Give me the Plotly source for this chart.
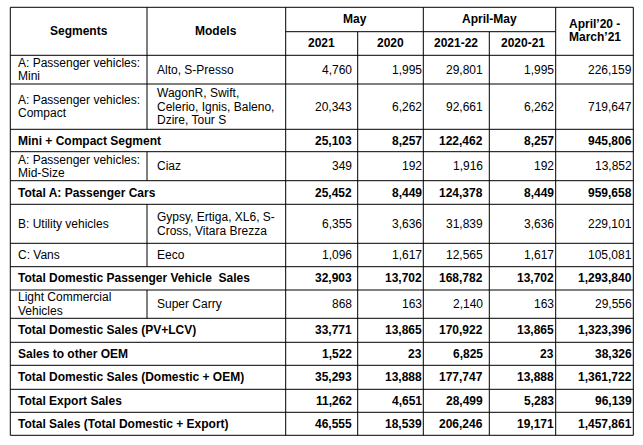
import plotly.graph_objects as go

# ---------------- data ----------------
segments = [
    "A: Passenger vehicles:\nMini",
    "A: Passenger vehicles:\nCompact",
    "Mini + Compact Segment",
    "A: Passenger vehicles:\nMid-Size",
    "Total A: Passenger Cars",
    "B: Utility vehicles",
    "C: Vans",
    "Total Domestic Passenger Vehicle  Sales",
    "Light Commercial\nVehicles",
    "Total Domestic Sales (PV+LCV)",
    "Sales to other OEM",
    "Total Domestic Sales (Domestic + OEM)",
    "Total Export Sales",
    "Total Sales (Total Domestic + Export)",
]
models = [
    "Alto, S-Presso",
    "WagonR, Swift,\nCelerio, Ignis, Baleno,\nDzire, Tour S",
    "",
    "Ciaz",
    "",
    "Gypsy, Ertiga, XL6, S-\nCross, Vitara Brezza",
    "Eeco",
    "",
    "Super Carry",
    "", "", "", "", "",
]
may_2021 = [4760, 20343, 25103, 349, 25452, 6355, 1096, 32903, 868, 33771, 1522, 35293, 11262, 46555]
may_2020 = [1995, 6262, 8257, 192, 8449, 3636, 1617, 13702, 163, 13865, 23, 13888, 4651, 18539]
apr_may_2021_22 = [29801, 92661, 122462, 1916, 124378, 31839, 12565, 168782, 2140, 170922, 6825, 177747, 28499, 206246]
apr_may_2020_21 = [1995, 6262, 8257, 192, 8449, 3636, 1617, 13702, 163, 13865, 23, 13888, 5283, 19171]
fy_2020_21 = [226159, 719647, 945806, 13852, 959658, 229101, 105081, 1293840, 29556, 1323396, 38326, 1361722, 96139, 1457861]

header_left = ["Segments", "Models"]
group_headers = ["May", "April-May"]
sub_headers = ["2021", "2020", "2021-22", "2020-21"]
fy_header = "April\u201920 -\nMarch\u201921"

value_cols = [may_2021, may_2020, apr_may_2021_22, apr_may_2020_21, fy_2020_21]

# ---------------- layout geometry ----------------
W, H = 643, 445
col_edges = [10.3, 147, 285.7, 357.7, 423.3, 489.3, 555.7, 633.3]
top, split, head_bot = 7.3, 31.7, 55.3
row_edges = [55.3, 84, 129.3, 151.7, 180.7, 204.3, 243.3, 266.7, 290,
             318.3, 342.3, 365.3, 389.3, 412.3, 435.3]
right_pad = [6, 1, 6, 1.5, 1]
line_gap = 13.4
FONT = "Liberation Sans, Arial, sans-serif"
FS = 12

fig = go.Figure()
shapes = []
ann = []


def line(x0, y0, x1, y1):
    shapes.append(dict(type="line", xref="x", yref="y", x0=x0, y0=y0, x1=x1, y1=y1,
                       line=dict(color="#000000", width=1)))


def text(x, y, s, anchor, bold=False, gap=line_gap):
    parts = s.split("\n")
    n = len(parts)
    for i, p in enumerate(parts):
        yy = y + (i - (n - 1) / 2) * gap
        t = f"<b>{p}</b>" if bold else p
        ann.append(dict(x=x, y=yy, xref="x", yref="y", text=t, showarrow=False,
                        xanchor=anchor, yanchor="middle", borderpad=0, borderwidth=0,
                        font=dict(family=FONT, size=FS, color="#000000")))


# horizontal lines
line(col_edges[0], top, col_edges[-1], top)
line(col_edges[2], split, col_edges[6], split)
for y in row_edges:
    line(col_edges[0], y, col_edges[-1], y)

# vertical lines
bottom = row_edges[-1]
for ci in [0, 2, 4, 6, 7]:
    line(col_edges[ci], top, col_edges[ci], bottom)
for ci in [3, 5]:
    line(col_edges[ci], split, col_edges[ci], bottom)
# segment/model divider: header + rows with a model
line(col_edges[1], top, col_edges[1], head_bot)
for r, m in enumerate(models):
    if m:
        line(col_edges[1], row_edges[r], col_edges[1], row_edges[r + 1])

# headers
hc = (top + head_bot) / 2 - 0.3
text((col_edges[0] + col_edges[1]) / 2, hc, header_left[0], "center", True)
text((col_edges[1] + col_edges[2]) / 2, hc, header_left[1], "center", True)
text((col_edges[2] + col_edges[4]) / 2, (top + split) / 2 - 1, group_headers[0], "center", True)
text((col_edges[4] + col_edges[6]) / 2, (top + split) / 2 - 1, group_headers[1], "center", True)
for i, s in enumerate(sub_headers):
    text((col_edges[2 + i] + col_edges[3 + i]) / 2, (split + head_bot) / 2 - 0.6, s, "center", True)
text((col_edges[6] + col_edges[7]) / 2, hc - 0.8, fy_header, "center", True, gap=13.4)

# body
for r in range(len(segments)):
    yc = (row_edges[r] + row_edges[r + 1]) / 2
    bold = models[r] == ""
    text(col_edges[0] + 8, yc, segments[r], "left", bold)
    if models[r]:
        text(col_edges[1] + 9.5, yc, models[r], "left", False)
    for ci, col in enumerate(value_cols):
        text(col_edges[2 + ci + 1] - right_pad[ci], yc, f"{col[r]:,}", "right", bold)

fig.update_layout(
    width=W, height=H, margin=dict(l=0, r=0, t=0, b=0),
    paper_bgcolor="white", plot_bgcolor="white",
    xaxis=dict(range=[0, W], visible=False, fixedrange=True),
    yaxis=dict(range=[H, 0], visible=False, fixedrange=True),
    shapes=shapes, annotations=ann, showlegend=False,
)
fig.write_html("out.html", config={"displayModeBar": False},
               post_script="document.body.style.margin='0';document.body.style.overflow='hidden';")
